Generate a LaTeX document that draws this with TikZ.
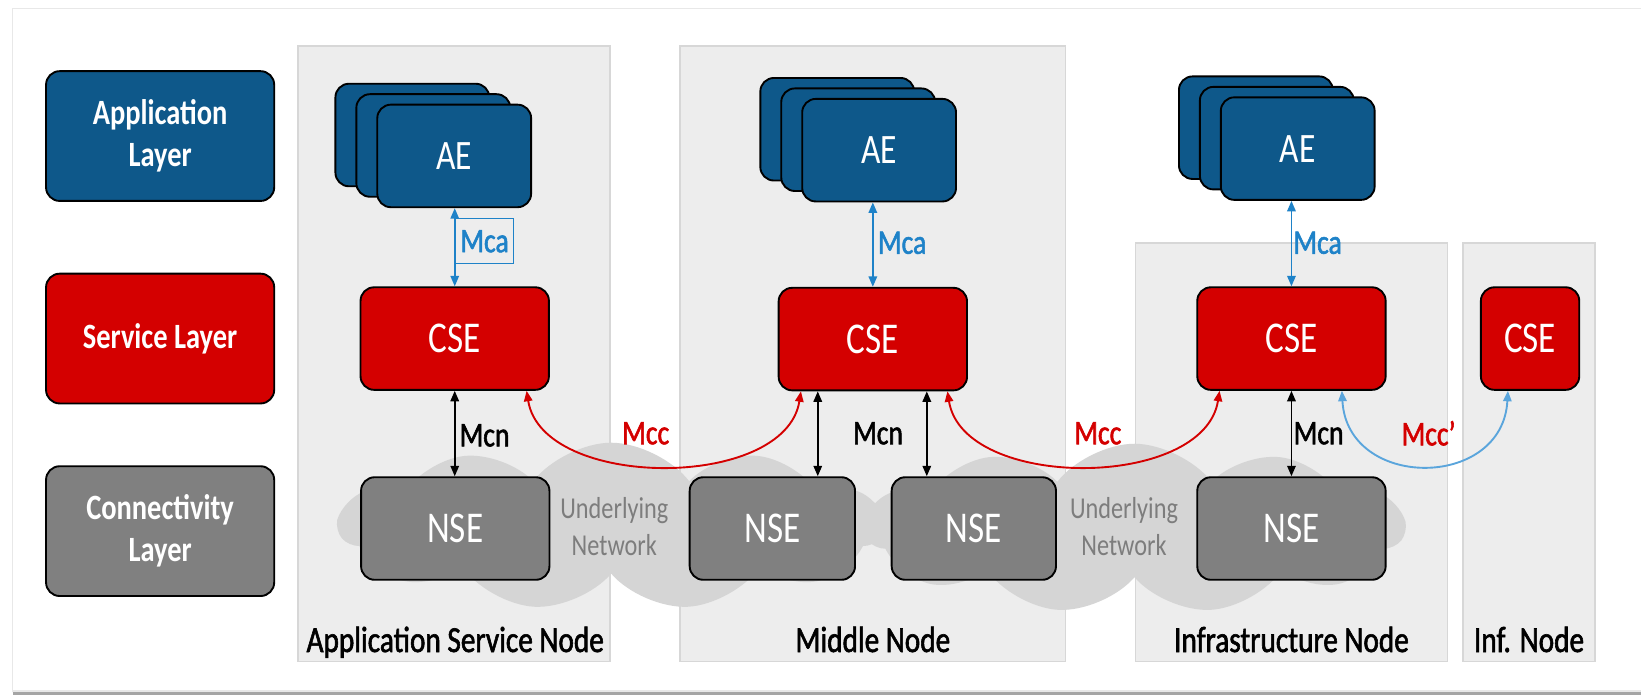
\documentclass[tikz,border=0pt]{standalone}
\usepackage{fontspec}
\setmainfont{Carlito}[FakeStretch=0.8]
\newfontfamily\semifont{Carlito}[FakeStretch=0.8, RawFeature={embolden=1.6}]
\usepackage{tikz}
\usetikzlibrary{positioning,shapes.symbols,arrows.meta}

\definecolor{aeblue}{RGB}{14,88,138}
\definecolor{cered}{RGB}{212,0,0}
\definecolor{nsegray}{RGB}{128,128,128}
\definecolor{panelgray}{RGB}{237,237,237}
\definecolor{panelline}{RGB}{215,215,215}
\definecolor{cloudgray}{RGB}{213,213,213}
\definecolor{nettext}{RGB}{125,125,125}
\definecolor{mcablue}{RGB}{30,130,200}
\definecolor{mccblue}{RGB}{90,165,220}
\definecolor{framegray}{RGB}{232,232,232}
\definecolor{shadowgray}{RGB}{165,165,165}

\tikzset{
  box/.style={rounded corners=13pt, draw=black, line width=1.8pt, text=white, align=center, inner sep=0pt},
  layerbox/.style={box, minimum width=218pt, minimum height=124pt, font=\fontsize{34}{40}\selectfont\bfseries},
  aebox/.style={box, fill=aeblue, minimum width=147pt, minimum height=98pt, font=\fontsize{40}{42}\selectfont},
  csebox/.style={box, fill=cered, minimum height=98pt, font=\fontsize{42}{44}\selectfont},
  nsebox/.style={box, fill=nsegray, minimum height=98pt, font=\fontsize{42}{44}\selectfont},
  panel/.style={fill=panelgray, draw=panelline, line width=1.5pt},
  net/.style={cloud, cloud puffs=11, cloud puff arc=105, cloud ignores aspect, fill=cloudgray, draw=none},
  nettxt/.style={align=center, text=nettext, font=\fontsize{29}{35}\selectfont},
  lbl/.style={font=\semifont\fontsize{33}{36}\selectfont, inner sep=0pt},
  nodelbl/.style={font=\semifont\fontsize{35}{38}\selectfont, anchor=base, inner sep=0pt},
  tip/.style={{Triangle[length=10pt,width=8pt]}-{Triangle[length=10pt,width=8pt]}},
  mca/.style={tip, draw=mcablue, line width=1.8pt},
  mcn/.style={tip, draw=black, line width=1.8pt},
  mcc/.style={tip, draw=cered, line width=1.8pt},
  mccp/.style={tip, draw=mccblue, line width=1.8pt}
}

\begin{document}
\begin{tikzpicture}[x=1pt,y=-1pt]

\useasboundingbox (0,0) rectangle (1568,666);
\fill[white] (0,0) rectangle (1568,666);
\draw[framegray, line width=1.5pt] (12,8) rectangle (1590,660);
\draw[shadowgray, line width=3pt] (12,663) -- (1568,663);

% node panels
\draw[panel] (285,44) rectangle (583,632);
\draw[panel] (650,44) rectangle (1018,632);
\draw[panel] (1085,232) rectangle (1383,632);
\draw[panel] (1398,232) rectangle (1524,632);

\node[nodelbl] (asn) at (435,623) {Application Service Node};
\node[nodelbl] (mn) at (834,623) {Middle Node};
\node[nodelbl] (in) at (1234,623) {Infrastructure Node};
\node[nodelbl] (inf) at (1461,623) {Inf. Node};

% underlying networks
\node[net, minimum width=520pt, minimum height=160pt] (net1) at (584,503) {};
\node[net, minimum width=515pt, minimum height=162pt] (net2) at (1084,505) {};
\node[nettxt] (un1) at (587,503) {Underlying\\Network};
\node[nettxt] (un2) at (1074,503) {Underlying\\Network};

% layers
\node[layerbox, fill=aeblue] (app) at (153,130) {Application\\Layer};
\node[layerbox, fill=cered] (srv) at (153,323.5) {Service Layer};
\node[layerbox, fill=nsegray] (con) at (153,507.5) {Connectivity\\Layer};

\foreach \n/\x/\y in {1/434/149, 2/840/143.5, 3/1240/142}{
  \node[aebox] (aec\n) at (\x-40,\y-20) {};
  \node[aebox] (aeb\n) at (\x-20,\y-10) {};
  \node[aebox] (ae\n) at (\x,\y) {AE};
}

\node[csebox, minimum width=180pt] (cse1) at (434.5,323.5) {CSE};
\node[csebox, minimum width=180pt] (cse2) at (834,324) {CSE};
\node[csebox, minimum width=180pt] (cse3) at (1234,323.5) {CSE};
\node[csebox, minimum width=94pt] (cse4) at (1462,323.5) {CSE};

\node[nsebox, minimum width=180pt] (nse1) at (435,505) {NSE};
\node[nsebox, minimum width=158pt] (nse2) at (738,505) {NSE};
\node[nsebox, minimum width=157pt] (nse3) at (930.5,505) {NSE};
\node[nsebox, minimum width=180pt] (nse4) at (1234,505) {NSE};

\draw[mca] (ae1.south -| cse1.north) -- (cse1.north);
\draw[mca] (ae2.south -| cse2.north) -- (cse2.north);
\draw[mca] (ae3.south -| cse3.north) -- (cse3.north);

\node[lbl, text=mcablue, draw=mcablue, line width=1.2pt, minimum width=56pt, minimum height=43pt] (mca1) at (463,230.5) {Mca};
\node[lbl, text=mcablue] (mca2) at (862,232) {Mca};
\node[lbl, text=mcablue] (mca3) at (1259,232) {Mca};

\draw[mcn] (cse1.south) -- (cse1.south |- nse1.north);
\draw[mcn] (nse2.49 |- cse2.south) -- (nse2.49);
\draw[mcn] (nse3.132 |- cse2.south) -- (nse3.132);
\draw[mcn] (cse3.south) -- (nse4.north);

\node[lbl] (mcn1) at (463,416) {Mcn};
\node[lbl] (mcn2) at (839,414) {Mcn};
\node[lbl] (mcn3) at (1260,414) {Mcn};

\draw[mcc] (cse1.-36) .. controls +(15,95) and +(-15,95) .. (cse2.-144);
\draw[mcc] (cse2.-35) .. controls +(15,95) and +(-15,95) .. (cse3.-144);
\draw[mccp] (cse3.-46) .. controls +(5,95) and +(-5,95) .. (cse4.-113);

\node[lbl, text=cered] (mcc1) at (617,414) {Mcc};
\node[lbl, text=cered] (mcc2) at (1049,414) {Mcc};
\node[lbl, text=cered] (mcc3) at (1365,414) {Mcc’};

\end{tikzpicture}
\end{document}
